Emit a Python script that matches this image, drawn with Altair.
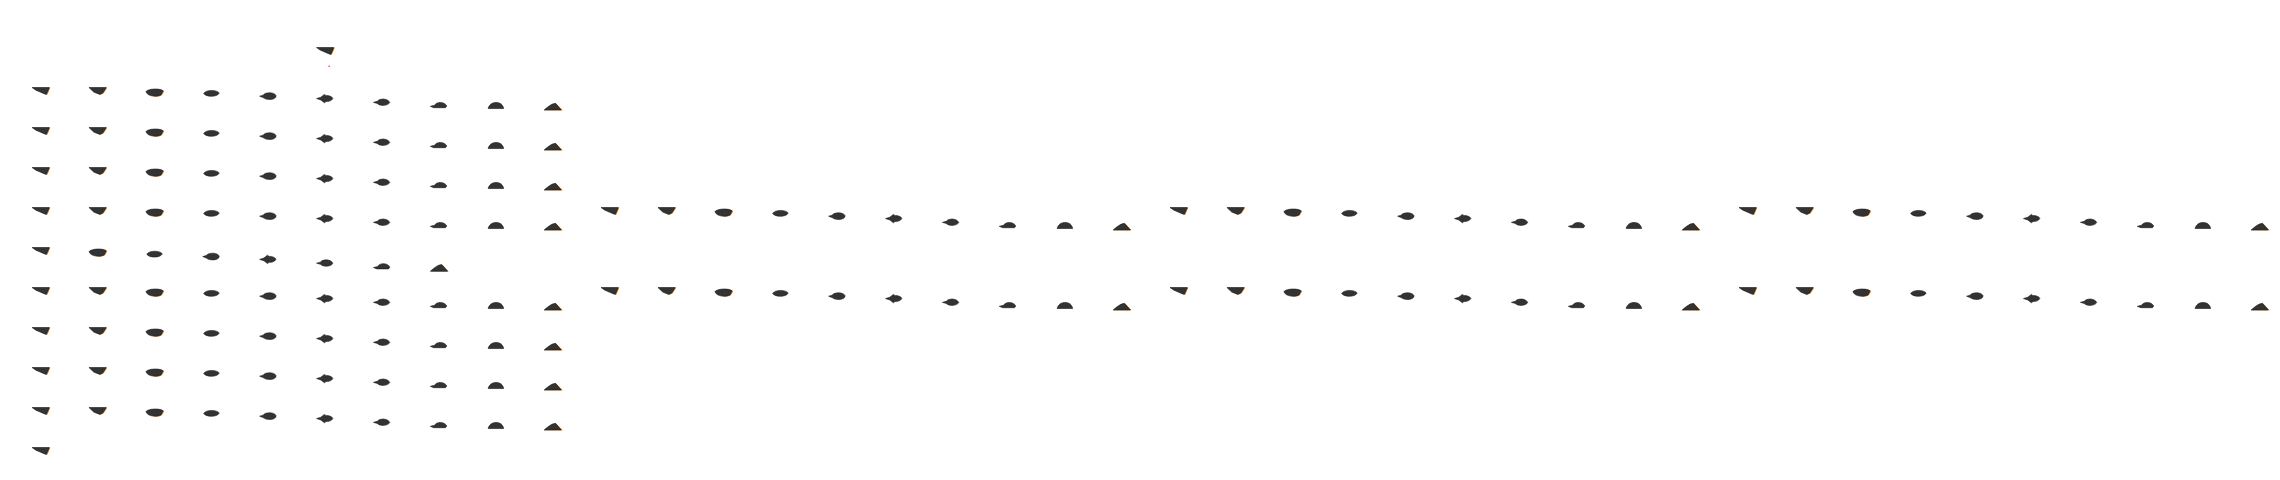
import altair as alt
import pandas as pd

# ---- data ----
# column index along the x axis (40 steps, periodic every 10)
period_cols = [0, 1, 2, 3, 4, 5, 6, 7, 8, 9]
# vertical dip (in row units) inside one 10-step period
dip10 = [0.0, 0.0, 0.04, 0.06, 0.13, 0.19, 0.28, 0.34, 0.36, 0.39]
phase10 = [0, 1, 2, 3, 4, 5, 6, 7, 8, 9]
# the short row (8 steps)
dip8 = [0.0, 0.04, 0.08, 0.14, 0.21, 0.30, 0.37, 0.42]
phase8 = [0, 2, 3, 4, 5, 6, 7, 9]
# rows of the left block (row 0 is the top, row 10 the bottom)
left_rows = [1, 2, 3, 4, 6, 7, 8, 9]
short_row = 5
long_rows = [4, 6]          # rows that continue over 4 periods
extra_periods = [1, 2, 3]
lone_points = [(0, 5), (10, 0)]   # (row, column) single glyphs
dot_point = (0.38, 5.07)          # tiny orange dot (row, column)

# glyph outlines for each phase (unit box -1..1)
glyphs = [
    "M-1,-0.4L1,-0.4L0.65,0.4L0.4,0.32L-0.6,-0.12Z",
    "M-1,-0.4L1,-0.4L0.6,0.22L0.25,0.4L-0.45,0.12Z",
    "M-1,-0.1C-0.7,-0.5 0.7,-0.5 1,-0.2L0.75,0.28C0.3,0.5 -0.4,0.46 -0.8,0.17Z",
    "M-0.9,0C-0.6,-0.45 0.6,-0.45 0.9,-0.05C0.7,0.45 -0.6,0.45 -0.9,0Z",
    "M-1,0L-0.6,-0.12C-0.3,-0.5 0.7,-0.5 0.9,-0.05C0.9,0.46 -0.2,0.5 -0.6,0.16Z",
    "M-1,0L-0.5,-0.16L-0.1,-0.48L0.1,-0.34C0.5,-0.38 0.88,-0.14 0.88,0C0.72,0.3 0.3,0.36 0.1,0.34L-0.1,0.48L-0.5,0.16Z",
    "M-1,0.02L-0.55,-0.1C-0.3,-0.46 0.6,-0.48 0.88,0.02C0.72,0.46 -0.3,0.46 -0.55,0.15Z",
    "M-1,0.2L-0.5,0.08C-0.3,-0.36 0.6,-0.38 0.9,0.15L0.75,0.36L-0.6,0.36Z",
    "M-0.9,0.36C-0.8,-0.1 -0.4,-0.34 0,-0.34C0.5,-0.34 0.8,-0.1 0.9,0.36Z",
    "M-1,0.4C-0.6,0.05 -0.2,-0.32 0.3,-0.38L1,0.4Z",
]
accent_phases = [0, 1, 2, 9]

rows = []
for r in left_rows:
    for c, d, p in zip(period_cols, dip10, phase10):
        rows.append({"col": c, "level": r + d, "phase": p})
for c, d, p in zip(period_cols, dip8, phase8):
    rows.append({"col": c, "level": short_row + d, "phase": p})
for r in long_rows:
    for k in extra_periods:
        for c, d, p in zip(period_cols, dip10, phase10):
            rows.append({"col": c + 10 * k, "level": r + d, "phase": p})
for r, c in lone_points:
    rows.append({"col": c, "level": r, "phase": 0})

df = pd.DataFrame(rows)
df["glyph"] = [glyphs[p] for p in df["phase"]]
df_acc = df[df["phase"].isin(accent_phases)]
df_dot = pd.DataFrame([{"col": dot_point[1], "level": dot_point[0]}])

xs = alt.Scale(domain=[-0.575, 39.215], nice=False, zero=False)
ys = alt.Scale(domain=[-1.075, 10.525], nice=False, zero=False, reverse=True)
X = alt.X("col:Q", scale=xs, axis=None)
Y = alt.Y("level:Q", scale=ys, axis=None)

GLYPH_SIZE = 300

accent = alt.Chart(df_acc).mark_point(
    filled=True, size=GLYPH_SIZE, color="#f0922b", opacity=1, xOffset=1.0, yOffset=0.3
).encode(x=X, y=Y, shape=alt.Shape("glyph:N", scale=None))

body = alt.Chart(df).mark_point(
    filled=True, size=GLYPH_SIZE, color="#333333", opacity=1,
    stroke="#1a1a1a", strokeWidth=0.6
).encode(x=X, y=Y, shape=alt.Shape("glyph:N", scale=None))

dot = alt.Chart(df_dot).mark_point(
    filled=True, size=2, color="#e0682a", opacity=1, shape="square"
).encode(x=X, y=Y)

chart = alt.layer(accent, body, dot).properties(
    width=2264, height=464, autosize="none", padding=0
).configure_view(stroke=None)

chart.save("out.html", embed_options={"renderer": "svg", "actions": False})
